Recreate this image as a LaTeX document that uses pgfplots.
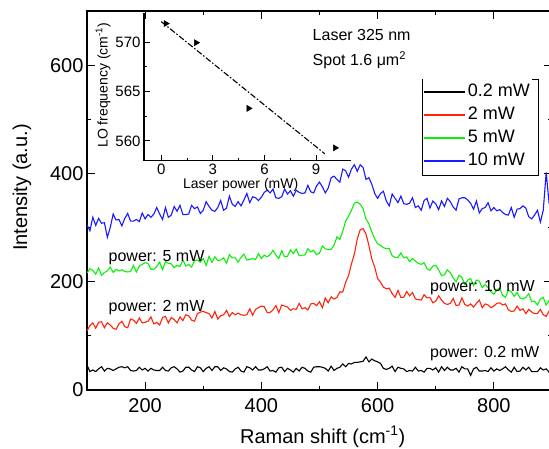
\documentclass[border=0pt]{standalone}
\usepackage{fontspec}
\setmainfont{Liberation Sans}
\usepackage{pgfplots}
\pgfplotsset{compat=1.18}
\usetikzlibrary{calc}
\definecolor{cred}{RGB}{255,35,10}
\definecolor{cgreen}{RGB}{10,240,10}
\definecolor{cblue}{RGB}{25,25,255}
\begin{document}
\begin{tikzpicture}
\begin{axis}[name=main, scale only axis, width=465pt, height=379pt,
  xmin=100, xmax=900, ymin=0, ymax=700,
  xtick={200,400,600,800}, ytick={0,200,400,600}, minor tick num=1,
  tick align=inside, major tick length=8pt, minor tick length=4pt,
  axis line style={line width=1.2pt}, every tick/.style={line width=1pt, black},
  /pgf/number format/assume math mode=true,
  tick label style={font=\fontsize{20}{24}\selectfont},
  xticklabel style={yshift=-5pt},
  xlabel={Raman shift (cm\textsuperscript{-1})},
  ylabel={Intensity (a.u.)},
  label style={font=\fontsize{20}{24}\selectfont},
  xlabel style={at={(axis description cs:0.507,-0.124)}, anchor=center},
  ylabel style={at={(axis description cs:-0.14,0.534)}, anchor=center},
  legend style={at={(axis cs:678,574)}, anchor=north west, draw=none, fill=white,
    inner xsep=0pt, inner ysep=1pt, row sep=0pt, font=\fontsize{18}{18}\selectfont,
    nodes={inner xsep=2.5pt, inner ysep=3.5pt, text height=13pt, text depth=3pt},
    cells={anchor=west}},
  legend image code/.code={\draw[line width=1.2pt, #1] (0pt,0pt) -- (41pt,0pt);},
  every axis plot/.append style={line width=1.1pt},
]
\addplot[black] coordinates {(100,46)(105,34)(110,37)(115,34)(120,39)(125,43)(130,35)(135,40)(140,39)(145,36)(150,39)(155,42)(160,43)(165,41)(170,43)(175,36)(180,35)(185,36)(190,42)(195,37)(200,40)(205,35)(210,40)(215,37)(220,36)(225,36)(230,42)(235,36)(240,35)(245,41)(250,43)(255,39)(260,33)(265,35)(270,42)(275,42)(280,37)(285,34)(290,43)(295,41)(300,34)(305,40)(310,43)(315,36)(320,43)(325,43)(330,36)(335,41)(340,39)(345,34)(350,33)(355,39)(360,42)(365,35)(370,33)(375,43)(380,41)(385,37)(390,43)(395,37)(400,37)(405,39)(410,43)(415,35)(420,36)(425,33)(430,41)(435,42)(440,34)(445,40)(450,37)(455,33)(460,40)(465,35)(470,42)(475,40)(480,35)(485,33)(490,42)(495,43)(500,43)(505,42)(510,40)(515,35)(520,44)(525,36)(530,40)(535,42)(540,48)(545,43)(550,49)(555,48)(560,51)(565,51)(570,52)(575,53)(580,61)(585,52)(590,57)(595,54)(600,52)(605,49)(610,40)(615,38)(620,40)(625,44)(630,34)(635,42)(640,40)(645,39)(650,34)(655,36)(660,35)(665,42)(670,35)(675,36)(680,33)(685,40)(690,40)(695,37)(700,41)(705,33)(710,43)(715,36)(720,42)(725,37)(730,37)(735,40)(740,33)(745,43)(750,39)(755,39)(760,27)(765,39)(770,42)(775,35)(780,35)(785,36)(790,34)(795,41)(800,35)(805,39)(810,36)(815,39)(820,43)(825,37)(830,33)(835,42)(840,34)(845,35)(850,42)(855,37)(860,42)(865,34)(870,34)(875,34)(880,41)(885,37)(890,39)(895,33)(900,35)};
\addlegendentry{0.2 mW}
\addplot[cred] coordinates {(100,109)(105,119)(110,124)(115,114)(120,125)(125,126)(130,115)(135,124)(140,120)(145,114)(150,112)(155,122)(160,127)(165,117)(170,115)(175,131)(180,129)(185,123)(190,133)(195,124)(200,125)(205,127)(210,135)(215,122)(220,125)(225,120)(230,134)(235,136)(240,124)(245,134)(250,130)(255,124)(260,135)(265,128)(270,139)(275,137)(280,129)(285,127)(290,141)(295,144)(300,145)(305,143)(310,141)(315,133)(320,145)(325,131)(330,137)(335,139)(340,147)(345,136)(350,143)(355,139)(360,142)(365,139)(370,138)(375,139)(380,150)(385,138)(390,149)(395,152)(400,155)(405,154)(410,143)(415,143)(420,148)(425,156)(430,143)(435,157)(440,155)(445,153)(450,147)(455,150)(460,149)(465,160)(470,150)(475,152)(480,148)(485,159)(490,160)(495,156)(500,163)(505,152)(510,170)(515,161)(520,172)(525,168)(530,171)(535,181)(540,181)(545,199)(550,211)(555,233)(560,251)(565,279)(570,296)(575,298)(580,288)(585,267)(590,242)(595,227)(600,206)(605,199)(610,190)(615,187)(620,188)(625,178)(630,171)(635,184)(640,171)(645,171)(650,182)(655,174)(660,180)(665,168)(670,167)(675,166)(680,176)(685,170)(690,171)(695,161)(700,164)(705,174)(710,166)(715,160)(720,158)(725,160)(730,169)(735,156)(740,157)(745,170)(750,158)(755,155)(760,159)(765,153)(770,160)(775,166)(780,152)(785,159)(790,157)(795,152)(800,155)(805,160)(810,161)(815,157)(820,159)(825,148)(830,145)(835,146)(840,155)(845,147)(850,150)(855,141)(860,149)(865,144)(870,141)(875,141)(880,149)(885,139)(890,136)(895,146)(900,148)};
\addlegendentry{2 mW}
\addplot[cgreen] coordinates {(100,216)(105,224)(110,221)(115,214)(120,225)(125,212)(130,217)(135,220)(140,227)(145,217)(150,223)(155,220)(160,222)(165,219)(170,218)(175,219)(180,230)(185,218)(190,229)(195,232)(200,235)(205,234)(210,223)(215,223)(220,228)(225,236)(230,222)(235,237)(240,234)(245,233)(250,226)(255,230)(260,228)(265,240)(270,229)(275,232)(280,227)(285,239)(290,240)(295,236)(300,243)(305,230)(310,247)(315,236)(320,246)(325,239)(330,240)(335,244)(340,234)(345,250)(350,244)(355,244)(360,236)(365,245)(370,251)(375,240)(380,241)(385,243)(390,241)(395,252)(400,243)(405,249)(410,246)(415,250)(420,258)(425,249)(430,243)(435,257)(440,246)(445,247)(450,259)(455,252)(460,260)(465,248)(470,249)(475,249)(480,261)(485,255)(490,258)(495,250)(500,253)(505,266)(510,261)(515,259)(520,260)(525,267)(530,283)(535,278)(540,293)(545,312)(550,321)(555,332)(560,345)(565,347)(570,343)(575,335)(580,316)(585,307)(590,292)(595,279)(600,270)(605,267)(610,263)(615,261)(620,261)(625,248)(630,245)(635,245)(640,253)(645,244)(650,246)(655,237)(660,243)(665,238)(670,234)(675,232)(680,235)(685,224)(690,221)(695,229)(700,230)(705,222)(710,211)(715,213)(720,222)(725,217)(730,207)(735,200)(740,212)(745,208)(750,195)(755,203)(760,206)(765,193)(770,203)(775,201)(780,189)(785,195)(790,189)(795,181)(800,177)(805,185)(810,188)(815,175)(820,171)(825,185)(830,181)(835,173)(840,180)(845,170)(850,168)(855,171)(860,178)(865,163)(870,164)(875,157)(880,168)(885,171)(890,157)(895,165)(900,159)};
\addlegendentry{5 mW}
\addplot[cblue] coordinates {(100,305)(105,294)(110,319)(115,304)(120,317)(125,308)(130,309)(135,282)(140,300)(145,325)(150,314)(155,315)(160,303)(165,317)(170,326)(175,312)(180,312)(185,315)(190,311)(195,327)(200,316)(205,324)(210,319)(215,325)(220,337)(225,325)(230,315)(235,337)(240,319)(245,323)(250,339)(255,330)(260,341)(265,324)(270,324)(275,325)(280,341)(285,335)(290,338)(295,326)(300,332)(305,348)(310,339)(315,332)(320,330)(325,337)(330,350)(335,332)(340,336)(345,358)(350,343)(355,339)(360,348)(365,340)(370,351)(375,363)(380,346)(385,357)(390,355)(395,350)(400,356)(405,365)(410,369)(415,364)(420,371)(425,355)(430,354)(435,357)(440,371)(445,362)(450,368)(455,358)(460,369)(465,365)(470,363)(475,364)(480,378)(485,366)(490,364)(495,377)(500,384)(505,375)(510,364)(515,373)(520,392)(525,395)(530,389)(535,384)(540,408)(545,405)(550,393)(555,408)(560,416)(565,404)(570,416)(575,411)(580,389)(585,392)(590,380)(595,363)(600,354)(605,363)(610,367)(615,349)(620,340)(625,362)(630,354)(635,346)(640,358)(645,344)(650,343)(655,345)(660,355)(665,337)(670,340)(675,332)(680,350)(685,354)(690,336)(695,349)(700,344)(705,333)(710,349)(715,339)(720,354)(725,348)(730,338)(735,332)(740,353)(745,355)(750,355)(755,351)(760,345)(765,334)(770,349)(775,327)(780,335)(785,337)(790,346)(795,331)(800,337)(805,331)(810,333)(815,328)(820,324)(825,323)(830,337)(835,319)(840,334)(845,335)(850,340)(855,336)(860,320)(865,316)(870,323)(875,332)(880,310)(885,332)(890,402)(895,345)(900,330)};
\addlegendentry{10 mW}
\draw[line width=1pt] (axis cs:678,574) rectangle ++(116pt,-96pt);
\node[anchor=west, font=\fontsize{16}{18}\selectfont, inner sep=0pt] at (axis cs:488,655) {Laser 325 nm};
\node[anchor=west, font=\fontsize{16}{18}\selectfont, inner sep=0pt] at (axis cs:488,609) {Spot 1.6 μm\textsuperscript{2}};
\node[anchor=west, font=\fontsize{16}{18}\selectfont, inner sep=0pt] at (axis cs:690,68) {power: 0.2 mW};
\node[anchor=west, font=\fontsize{16}{18}\selectfont, inner sep=0pt] at (axis cs:137,153) {power: 2 mW};
\node[anchor=west, font=\fontsize{16}{18}\selectfont, inner sep=0pt] at (axis cs:137,244) {power: 5 mW};
\node[anchor=west, font=\fontsize{16}{18}\selectfont, inner sep=0pt] at (axis cs:690,190) {power: 10 mW};
\end{axis}
\begin{axis}[at={($(main.south west)+(57pt,229.3pt)$)}, anchor=south west,
  scale only axis, width=206.6pt, height=148pt,
  xmin=-1, xmax=11, ymin=558, ymax=573,
  axis lines=left, axis line style={-, line width=1.2pt},
  xtick={0,3,6,9}, ytick={560,565,570}, minor tick num=1,
  tick align=inside, major tick length=6pt, minor tick length=3pt,
  every tick/.style={line width=1pt, black},
  /pgf/number format/assume math mode=true,
  tick label style={font=\fontsize{15}{18}\selectfont},
  xlabel={Laser power (mW)},
  ylabel={LO frequency (cm\textsuperscript{-1})},
  label style={font=\fontsize{14}{16}\selectfont},
  xlabel style={at={(axis description cs:0.468,-0.162)}, anchor=center},
  ylabel style={at={(axis description cs:-0.198,0.51)}, anchor=center},
]
\addplot[black, line width=1.1pt, dash pattern=on 6pt off 2pt on 1.5pt off 2pt] coordinates {(0,572.1)(9.5,558.7)};
\addplot[only marks, mark=triangle*, mark size=3.5pt, mark options={rotate=-90, fill=black}] coordinates {(0.27,571.9)(2.03,569.96)(5.08,563.3)(10.1,559.3)};
\end{axis}
\pgfresetboundingbox
\path[use as bounding box] ($(main.south west)+(-87pt,-59pt)$) rectangle ($(main.south west)+(462pt,390pt)$);
\end{tikzpicture}
\end{document}
